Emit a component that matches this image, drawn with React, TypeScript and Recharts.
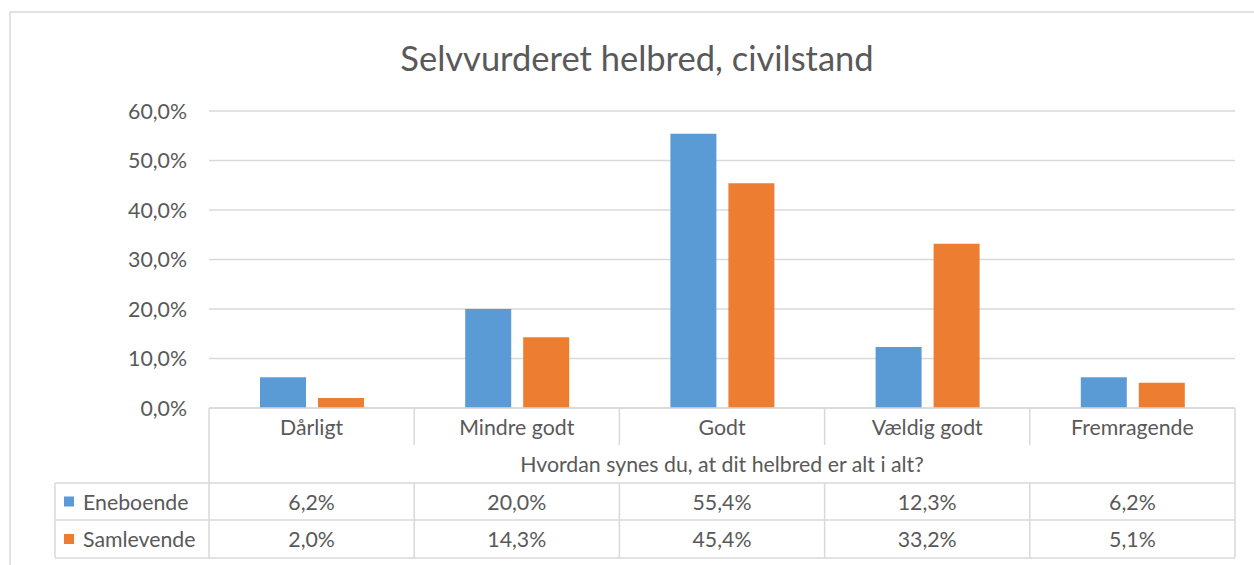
import React from "react";
import { BarChart, Bar, XAxis, YAxis, CartesianGrid } from "recharts";

const chartTitle = "Selvvurderet helbred, civilstand";
const axisTitle = "Hvordan synes du, at dit helbred er alt i alt?";
const categories = ["Dårligt", "Mindre godt", "Godt", "Vældig godt", "Fremragende"];
const eneboende = [6.2, 20.0, 55.4, 12.3, 6.2];
const samlevende = [2.0, 14.3, 45.4, 33.2, 5.1];
const seriesNames = ["Eneboende", "Samlevende"];
const seriesColors = ["#5B9BD5", "#ED7D31"];
const yTicks = [0, 10, 20, 30, 40, 50, 60];

const data = categories.map((c, i) => ({
  name: c,
  eneboende: eneboende[i],
  samlevende: samlevende[i],
}));

const W = 1254;
const H = 565;
const plotLeft = 209;
const plotRight = 1235;
const plotTop = 111;
const plotBottom = 408;
const bandW = (plotRight - plotLeft) / categories.length;
const rowCat = 445;
const rowTitle = 483;
const rowA = 520;
const rowB = 558;
const legendLeft = 55;
const textColor = "#595959";
const lineColor = "#d9d9d9";
const font = "Lato, 'Open Sans', sans-serif";
const fs = 21.3;

const fmt = (v: number) => v.toFixed(1).replace(".", ",") + "%";

function TableTick(props: any) {
  const { x, payload } = props;
  const i = payload.index;
  const left = x - bandW / 2;
  return (
    <g>
      {i > 0 && (
        <>
          <line x1={left} x2={left} y1={plotBottom} y2={rowCat} stroke={lineColor} strokeWidth={1.5} />
          <line x1={left} x2={left} y1={rowTitle} y2={rowB} stroke={lineColor} strokeWidth={1.5} />
        </>
      )}
      <text x={x} y={(plotBottom + rowCat) / 2} textAnchor="middle" dominantBaseline="central" fill={textColor} fontSize={fs} fontFamily={font}>
        {payload.value}
      </text>
      <text x={x} y={(rowTitle + rowA) / 2} textAnchor="middle" dominantBaseline="central" fill={textColor} fontSize={fs} fontFamily={font}>
        {fmt(eneboende[i])}
      </text>
      <text x={x} y={(rowA + rowB) / 2} textAnchor="middle" dominantBaseline="central" fill={textColor} fontSize={fs} fontFamily={font}>
        {fmt(samlevende[i])}
      </text>
    </g>
  );
}

export default function App() {
  return (
    <div style={{ position: "absolute", left: 0, top: 0, width: W, height: H, background: "#fff", overflow: "hidden" }}>
      <BarChart
        width={W}
        height={H}
        data={data}
        margin={{ top: plotTop, right: W - plotRight, left: plotLeft - 80, bottom: 7 }}
        barCategoryGap="24.5%"
        barGap={12}
      >
        <CartesianGrid vertical={false} stroke={lineColor} strokeWidth={1.5} />
        <YAxis
          width={80}
          domain={[0, 60]}
          ticks={yTicks}
          tickFormatter={(v: number) => fmt(v)}
          axisLine={false}
          tickLine={false}
          tickSize={0}
          tickMargin={22}
          tick={{ fill: textColor, fontSize: fs, fontFamily: font }}
        />
        <XAxis
          dataKey="name"
          height={150}
          axisLine={{ stroke: lineColor, strokeWidth: 1.5 }}
          tickLine={false}
          tickSize={0}
          tickMargin={0}
          interval={0}
          tick={<TableTick />}
        />
        <Bar dataKey="eneboende" name={seriesNames[0]} fill={seriesColors[0]} barSize={46} isAnimationActive={false} />
        <Bar dataKey="samlevende" name={seriesNames[1]} fill={seriesColors[1]} barSize={46} isAnimationActive={false} />
      </BarChart>
      <svg width={W} height={H} style={{ position: "absolute", left: 0, top: 0, pointerEvents: "none" }}>
        <rect x={10} y={12} width={W} height={H} fill="none" stroke={lineColor} strokeWidth={1.5} />
        <text x={637} y={57} textAnchor="middle" dominantBaseline="central" fill={textColor} fontSize={34.5} fontFamily={font}>
          {chartTitle}
        </text>
        <line x1={plotLeft} x2={plotLeft} y1={plotBottom} y2={rowB} stroke={lineColor} strokeWidth={1.5} />
        <line x1={plotRight} x2={plotRight} y1={plotBottom} y2={rowB} stroke={lineColor} strokeWidth={1.5} />
        <line x1={legendLeft} x2={legendLeft} y1={rowTitle} y2={rowB} stroke={lineColor} strokeWidth={1.5} />
        {[rowTitle, rowA, rowB].map((y) => (
          <line key={y} x1={legendLeft} x2={plotRight} y1={y} y2={y} stroke={lineColor} strokeWidth={1.5} />
        ))}
        <text x={(plotLeft + plotRight) / 2} y={(rowCat + rowTitle) / 2} textAnchor="middle" dominantBaseline="central" fill={textColor} fontSize={fs} fontFamily={font}>
          {axisTitle}
        </text>
        {seriesNames.map((n, i) => {
          const cy = i === 0 ? (rowTitle + rowA) / 2 : (rowA + rowB) / 2;
          return (
            <g key={n}>
              <rect x={64} y={cy - 5} width={10} height={10} fill={seriesColors[i]} />
              <text x={83} y={cy} dominantBaseline="central" fill={textColor} fontSize={fs} fontFamily={font}>
                {n}
              </text>
            </g>
          );
        })}
      </svg>
    </div>
  );
}
